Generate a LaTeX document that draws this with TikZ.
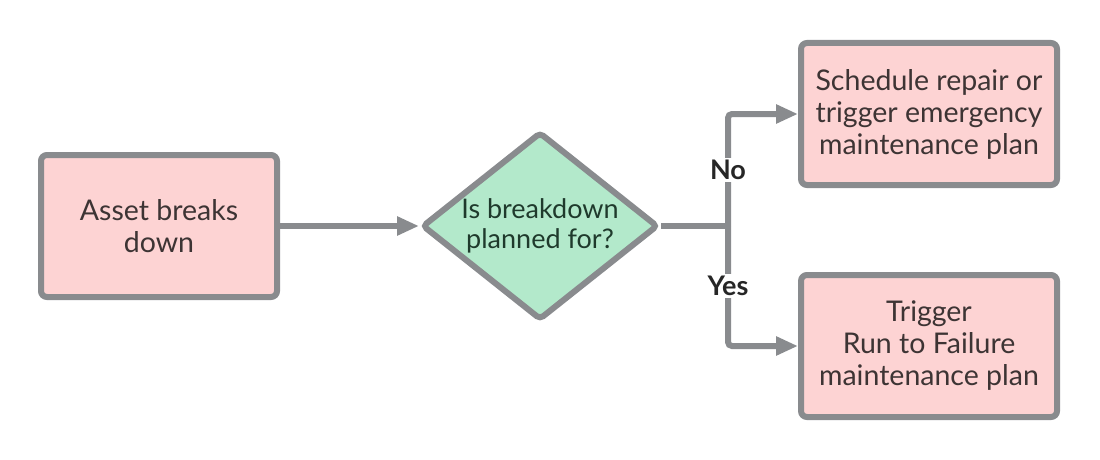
\documentclass[tikz,border=0pt]{standalone}
\usepackage{fontspec}
\setmainfont{Lato}
\usetikzlibrary{shapes.geometric,arrows.meta,positioning}
\definecolor{linegray}{HTML}{898B8E}
\definecolor{boxpink}{HTML}{FDD3D3}
\definecolor{qgreen}{HTML}{B3E9CB}
\definecolor{boxtext}{HTML}{3D3434}
\definecolor{qtext}{HTML}{1F3A2C}
\tikzset{
  stepbox/.style={rectangle, rounded corners=6pt, draw=linegray, line width=6pt,
    fill=boxpink, minimum width=236pt, minimum height=142pt, align=center,
    text=boxtext, font=\fontsize{28.5}{32}\selectfont},
  question/.style={diamond, rounded corners=4pt, draw=linegray, line width=6pt,
    fill=qgreen, minimum width=236pt, minimum height=188pt, inner sep=-20pt,
    align=center, text=qtext, font=\fontsize{27}{30}\selectfont},
  flow/.style={draw=linegray, line width=6pt, rounded corners=4pt,
    -{Triangle[length=22pt,width=18pt]}},
  branch/.style={font=\fontsize{27}{30}\selectfont\bfseries, fill=white,
    text=black!85, inner sep=2pt}
}
\begin{document}
\begin{tikzpicture}[x=1pt, y=-1pt]
  \useasboundingbox (0,0) rectangle (1100,460);
  % boxes
  \node[stepbox] (asset) at (159,226) {Asset breaks\\down};
  \node[question] (planned) at (540,226) {Is breakdown\\planned for?};
  \node[stepbox, minimum width=256pt] (repair) at (929,114)
    {Schedule repair or\\trigger emergency\\maintenance plan};
  \node[stepbox, minimum width=256pt] (rtf) at (929,346)
    {Trigger\\Run to Failure\\maintenance plan};
  \coordinate (split) at (728,226);
  % connectors
  \draw[flow] (asset.east) -- (planned.west);
  \draw[draw=linegray, line width=6pt] (planned.east) -- (split);
  \draw[flow] (split) |- (repair.west) node[branch, pos=0.25] {No};
  \draw[flow] (split) |- (rtf.west) node[branch, pos=0.25] {Yes};
\end{tikzpicture}
\end{document}
